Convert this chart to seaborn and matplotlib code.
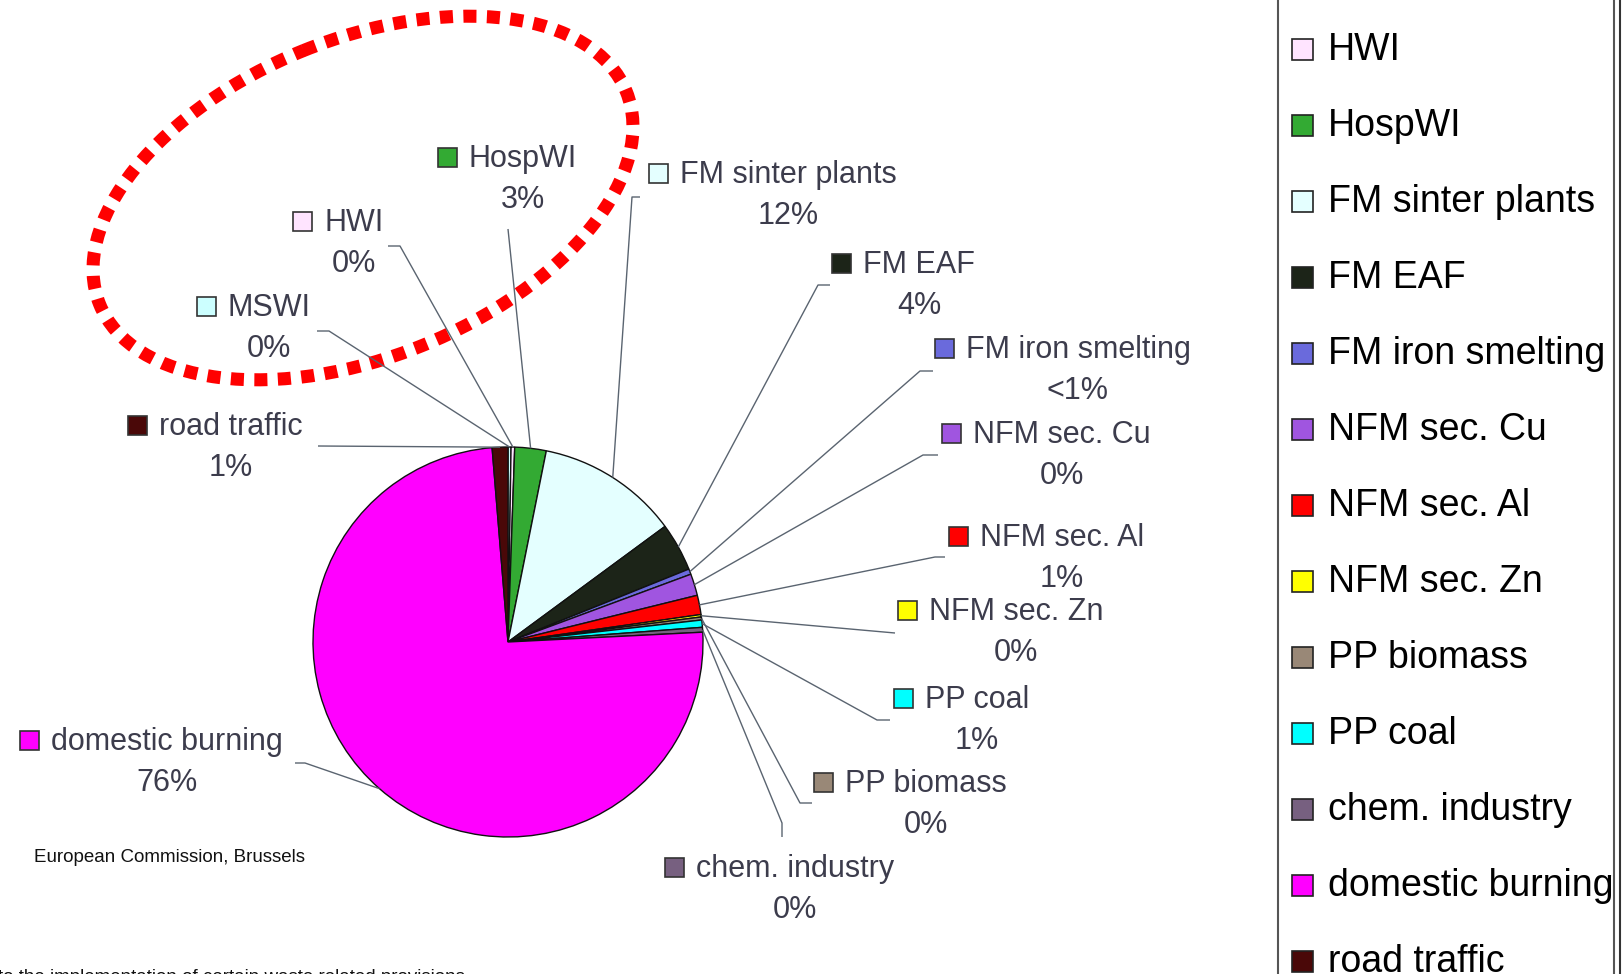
import matplotlib
matplotlib.use('Agg')
import matplotlib.pyplot as plt
import seaborn as sns
from matplotlib.patches import Ellipse, Rectangle
import numpy as np

sns.set_theme(style='white')
plt.rcParams['font.family'] = ['Liberation Sans', 'DejaVu Sans']

# data (slice sizes)
sources = ['MSWI', 'HWI', 'HospWI', 'FM sinter plants', 'FM EAF', 'FM iron smelting',
           'NFM sec. Cu', 'NFM sec. Al', 'NFM sec. Zn', 'PP biomass', 'PP coal',
           'chem. industry', 'domestic burning', 'road traffic']
shares = [0.25, 0.3, 2.6, 11.75, 4.0, 0.45, 1.8, 1.6, 0.2, 0.25, 0.6, 0.4, 74.5, 1.3]
pct_labels = ['0%', '0%', '3%', '12%', '4%', '<1%', '0%', '1%', '0%', '0%', '1%',
              '0%', '76%', '1%']
colors = ['#ccffff', '#ffe4ff', '#33aa33', '#e4ffff', '#1c2418', '#6a6adc',
          '#a055e0', '#ff0000', '#ffff00', '#998877', '#00ffff', '#776080',
          '#ff00ff', '#4a0808']

# label layout in pixels (name centre x, name baseline y)
label_pos = [(269, 316), (354, 231), (523, 167), (788, 183), (919, 273), (1078, 358),
             (1062, 443), (1062, 546), (1016, 620), (926, 792), (977, 708),
             (795, 877), (167, 750), (231, 435)]
# outer ends of the leader lines
leader_start = [[(317, 331), (329, 331)], [(388, 246), (400, 246)], [(508, 229)],
                [(640, 197), (632, 197)], [(830, 285), (818, 285)],
                [(933, 371), (920, 371)], [(938, 455), (923, 455)],
                [(945, 557), (935, 557)], [(895, 633)], [(812, 803), (800, 803)],
                [(890, 720), (877, 720)], [(782, 837), (782, 823)],
                [(295, 763), (305, 763)], [(318, 446)]]

W, H = 1622, 974
fig = plt.figure(figsize=(W / 100, H / 100), dpi=100)
fig.patch.set_facecolor('white')

# pie
cx, cy, R = 508, 642, 195
pax = fig.add_axes([(cx - R) / W, (H - cy - R) / H, 2 * R / W, 2 * R / H])
wedges, _ = pax.pie(shares, colors=colors, startangle=90, counterclock=False,
                    wedgeprops=dict(edgecolor='#111111', linewidth=1.0, clip_on=False))
pax.set_xlim(-1, 1)
pax.set_ylim(-1, 1)
pax.axis('off')

# overlay in pixel coordinates
ov = fig.add_axes([0, 0, 1, 1], zorder=3)
ov.set_xlim(0, W)
ov.set_ylim(H, 0)
ov.axis('off')

renderer = fig.canvas.get_renderer()
label_color = '#3c3c4c'
line_color = '#5a6470'

for i, w in enumerate(wedges):
    mid = np.deg2rad((w.theta1 + w.theta2) / 2)
    px, py = pax.transData.transform((np.cos(mid), np.sin(mid)))
    pts = leader_start[i] + [(px, H - py)]
    xs, ys = zip(*pts)
    ov.plot(xs, ys, color=line_color, lw=1.0, solid_capstyle='butt')

    lx, bl = label_pos[i]
    t = ov.text(lx, bl, sources[i], ha='center', va='baseline', fontsize=22,
                color=label_color)
    ov.text(lx, bl + 41, pct_labels[i], ha='center', va='baseline', fontsize=22,
            color=label_color)
    tw = t.get_window_extent(renderer=renderer).width
    left = lx - tw / 2
    ov.add_patch(Rectangle((left - 31, bl - 19), 19, 19, facecolor=colors[i],
                           edgecolor='#333333', lw=1.2))

# dotted highlight ellipse
ov.add_patch(Ellipse((363, 198), 568, 318, angle=-22, fill=False, edgecolor='#ff0000',
                     lw=9.4, linestyle=(0, (1, 0.8))))

# legend box on the right (its first entry, MSWI, lies above the visible area)
ov.add_patch(Rectangle((1278, -20), 336, H + 40, fill=False, edgecolor='#555555',
                       lw=1.5, clip_on=False))
ov.plot([1620, 1620], [0, H], color='#333333', lw=1.5)
for i, name in enumerate(sources[1:]):
    bl = 60 + 76 * i
    ov.add_patch(Rectangle((1292, bl - 21), 21, 21, facecolor=colors[i + 1],
                           edgecolor='#222222', lw=1.2))
    ov.text(1328, bl, name, ha='left', va='baseline', fontsize=27, color='black')

ov.text(34, 862, 'European Commission, Brussels', ha='left', va='baseline',
        fontsize=13.5, color='#111111')
ov.text(-2, 982, 'to the implementation of certain waste related provisions',
        ha='left', va='baseline', fontsize=13.5, color='#111111')

fig.savefig('out.png', dpi=100, facecolor='white')
